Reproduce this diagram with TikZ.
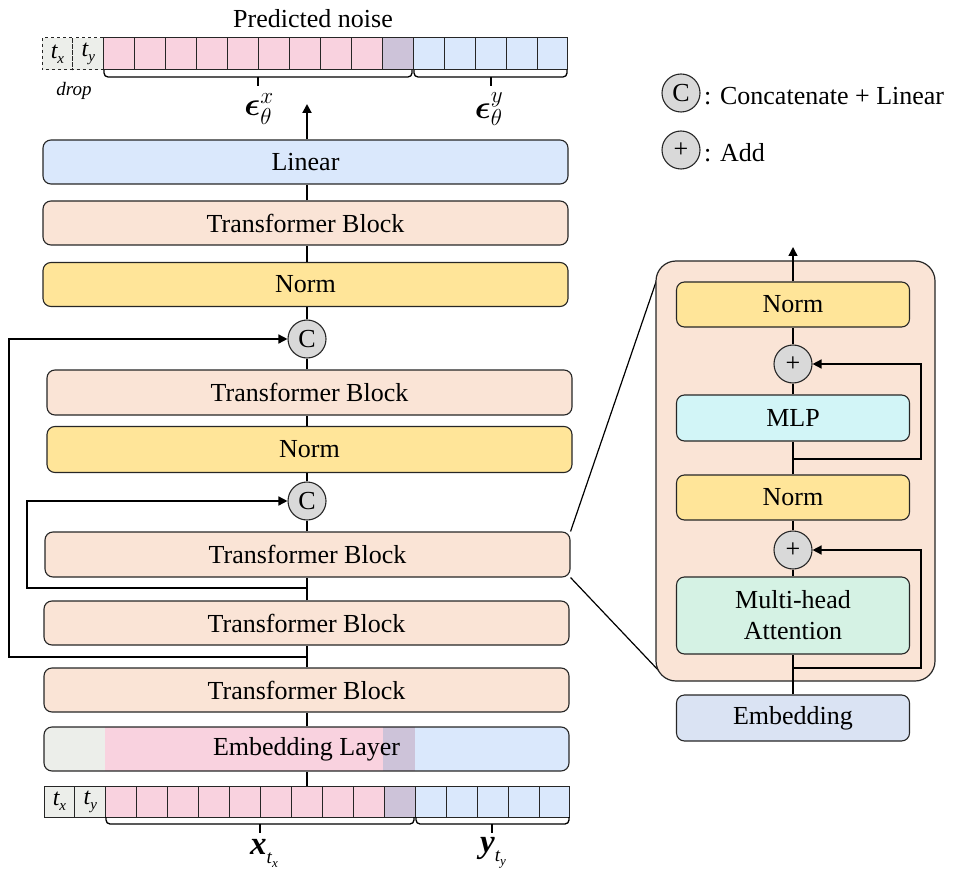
\RequirePackage{fix-cm}
\documentclass[tikz,border=0pt]{standalone}
\usepackage{bm}
\usepackage{fontspec}
\setmainfont{Liberation Serif}
\usetikzlibrary{arrows.meta,calc}
\definecolor{cLin}{HTML}{DAE8FC}
\definecolor{cTB}{HTML}{FAE4D6}
\definecolor{cNorm}{HTML}{FFE599}
\definecolor{cC}{HTML}{D9D9D9}
\definecolor{cPink}{HTML}{F9D2DF}
\definecolor{cPurp}{HTML}{CDC3D9}
\definecolor{cBlue}{HTML}{DAE8FC}
\definecolor{cGray}{HTML}{ECEEEA}
\definecolor{cMLP}{HTML}{D2F5F7}
\definecolor{cMHA}{HTML}{D5F2E4}
\definecolor{cEmb}{HTML}{DAE3F3}
\newcommand\boxfont{\fontsize{26}{31}\selectfont}
\newcommand\tlab[1]{{\fontsize{24}{24}\selectfont\itshape t\raisebox{-5pt}{\fontsize{15}{15}\selectfont #1}}}
\newcommand\vlab[2]{{\fontsize{33}{33}\selectfont\bfseries\itshape #1\raisebox{-9pt}{\fontsize{19}{19}\selectfont\mdseries t\raisebox{-4pt}{\fontsize{13}{13}\selectfont #2}}}}
\tikzset{
  box/.style={draw=black!85, line width=1.1pt, rounded corners=8pt, minimum width=525pt, minimum height=44pt, inner sep=0pt, font=\boxfont},
  rbox/.style={box, minimum width=233pt, minimum height=45pt},
  circ/.style={circle, draw=black!85, line width=1.1pt, fill=cC, minimum size=38pt, inner sep=0pt, font=\boxfont},
  conn/.style={line width=2pt},
  skipline/.style={line width=1.5pt},
  arr/.style={-{Triangle[length=9pt,width=9pt]}},
  cell/.style={draw=black!85, line width=1pt},
  brc/.style={line width=1.3pt, rounded corners=4pt},
}
\begin{document}
\begin{tikzpicture}[x=1pt,y=-1pt]
\useasboundingbox (0,0) rectangle (957,874);

% ---------- top strip ----------
\node[font=\boxfont] (pn) at (313,19) {Predicted noise};
\foreach \i in {0,1} \draw[cell,dashed,fill=cGray] ({42+\i*30.94},38) rectangle ++(30.94,32);
\foreach \i in {2,...,10} \draw[cell,fill=cPink] ({42+\i*30.94},38) rectangle ++(30.94,32);
\draw[cell,fill=cPurp] ({42+11*30.94},38) rectangle ++(30.94,32);
\foreach \i in {12,...,16} \draw[cell,fill=cBlue] ({42+\i*30.94},38) rectangle ++(30.94,32);
\node (ttx) at ({42+15.47},54) {\tlab{x}};
\node (tty) at ({42+46.41},54) {\tlab{y}};
\node[font=\fontsize{19}{19}\selectfont\itshape] (drop) at (74,91) {drop};
\draw[brc] (104,70) -- (104,77) -- (412,77) -- (412,70);
\draw[brc] (414,70) -- (414,77) -- (567,77) -- (567,70);
\coordinate (bt1) at (258,77); \coordinate (bt2) at (491,77);
\draw[line width=1.3pt] (bt1) -- ++(0,9);
\draw[line width=1.3pt] (bt2) -- ++(0,9);
\node (ex) at (259,109) {\fontsize{33}{33}\selectfont$\bm{\epsilon}_{\theta}^{x}$};
\node (ey) at (489,109) {\fontsize{33}{33}\selectfont$\bm{\epsilon}_{\theta}^{y}$};

% ---------- main column ----------
\node[box,fill=cLin] (lin) at (305.5,162) {Linear};
\node[box,fill=cTB] (tb1) at (305.5,223) {Transformer Block};
\node[box,fill=cNorm] (n1) at (305.5,284.5) {Norm};
\node[circ] (c1) at (307,339) {C};
\node[box,fill=cTB,minimum height=45pt] (tb2) at (309.5,392.5) {Transformer Block};
\node[box,fill=cNorm,minimum height=46pt] (n2) at (309.5,449.5) {Norm};
\node[circ] (c2) at (307,501) {C};
\node[box,fill=cTB,minimum height=45pt] (tb3) at (307.5,554.5) {Transformer Block};
\node[box,fill=cTB] (tb4) at (306.5,623) {Transformer Block};
\node[box,fill=cTB] (tb5) at (306.5,690) {Transformer Block};
\begin{scope}
  \clip[rounded corners=8pt] (44,727) rectangle (569,771);
  \fill[cGray] (44,727) rectangle (105,771);
  \fill[cPink] (105,727) rectangle (383,771);
  \fill[cPurp] (383,727) rectangle (415,771);
  \fill[cBlue] (415,727) rectangle (569,771);
\end{scope}
\node[box] (emb) at (306.5,749) {Embedding Layer};

% ---------- bottom strip ----------
\foreach \i in {0,1} \draw[cell,fill=cGray] ({44+\i*30.94},786) rectangle ++(30.94,31);
\foreach \i in {2,...,10} \draw[cell,fill=cPink] ({44+\i*30.94},786) rectangle ++(30.94,31);
\draw[cell,fill=cPurp] ({44+11*30.94},786) rectangle ++(30.94,31);
\foreach \i in {12,...,16} \draw[cell,fill=cBlue] ({44+\i*30.94},786) rectangle ++(30.94,31);
\node (btx) at ({44+15.47},801.5) {\tlab{x}};
\node (bty) at ({44+46.41},801.5) {\tlab{y}};
\draw[brc] (106,817) -- (106,824) -- (414,824) -- (414,817);
\draw[brc] (416,817) -- (416,824) -- (569,824) -- (569,817);
\coordinate (bb1) at (260,824); \coordinate (bb2) at (492,824);
\draw[line width=1.3pt] (bb1) -- ++(0,9);
\draw[line width=1.3pt] (bb2) -- ++(0,9);
\node (xl) at (264,853) {\vlab{x}{x}};
\node (yl) at (493,853) {\vlab{y}{y}};

% ---------- main connectors ----------
\coordinate (stripB) at (307,786);
\coordinate (outtop) at (307,104);
\draw[conn] (stripB) -- (stripB |- emb.south);
\draw[conn] (emb.north -| c1) -- (tb5.south -| c1);
\draw[conn] (tb5.north -| c1) -- (tb4.south -| c1);
\draw[conn] (tb4.north -| c1) -- (tb3.south -| c1);
\draw[conn] (tb3.north -| c1) -- (c2.south);
\draw[conn] (c2.north) -- (n2.south -| c1);
\draw[conn] (n2.north -| c1) -- (tb2.south -| c1);
\draw[conn] (tb2.north -| c1) -- (c1.south);
\draw[conn] (c1.north) -- (n1.south -| c1);
\draw[conn] (n1.north -| c1) -- (tb1.south -| c1);
\draw[conn] (tb1.north -| c1) -- (lin.south -| c1);
\draw[conn,arr] (lin.north -| outtop) -- (outtop);
\coordinate (s1) at (307,657); \coordinate (o1) at (9,657);
\draw[skipline,arr] (s1) -- (o1) |- (c1.west);
\coordinate (s2) at (307,588); \coordinate (o2) at (27,588);
\draw[skipline,arr] (s2) -- (o2) |- (c2.west);

% ---------- legend ----------
\node[circ] (lc) at (681,93) {C};
\node[font=\boxfont,anchor=base west,inner sep=0pt] (lct) at (704,105) {: Concatenate + Linear};
\node[circ] (lp) at (681,150) {+};
\node[font=\boxfont,anchor=base west,inner sep=0pt] (lpt) at (704,162) {: Add};

% ---------- right panel ----------
\coordinate (z1) at (657,279); \coordinate (z2) at (660,672);
\draw[line width=1.2pt] (tb3.north east) -- (z1);
\draw[line width=1.2pt] (tb3.south east) -- (z2);
\node[draw=black!85, line width=1.2pt, fill=cTB, rounded corners=20pt, minimum width=279pt, minimum height=420pt] (panel) at (795.5,471) {};
\node[rbox,fill=cNorm] (rn1) at (793,304.5) {Norm};
\node[circ] (p1) at (793,364) {+};
\node[rbox,fill=cMLP,minimum height=46pt] (mlp) at (793,418) {MLP};
\node[rbox,fill=cNorm] (rn2) at (793,497.5) {Norm};
\node[circ] (p2) at (793,550) {+};
\node[rbox,fill=cMHA,minimum height=77pt,align=center] (mha) at (793,615.5) {Multi-head\\Attention};
\node[rbox,fill=cEmb,minimum height=46pt] (remb) at (793,718) {Embedding};
\coordinate (rout) at (793,247);
\draw[skipline] (remb.north) -- (mha.south);
\draw[skipline] (mha.north) -- (p2.south);
\draw[skipline] (p2.north) -- (rn2.south);
\draw[skipline] (rn2.north) -- (mlp.south);
\draw[skipline] (mlp.north) -- (p1.south);
\draw[skipline] (p1.north) -- (rn1.south);
\draw[skipline,arr] (rn1.north) -- (rout);
\coordinate (r1) at (793,459); \coordinate (r1e) at (921,459);
\draw[skipline,arr] (r1) -- (r1e) |- (p1.east);
\coordinate (r2) at (793,668); \coordinate (r2e) at (921,668);
\draw[skipline,arr] (r2) -- (r2e) |- (p2.east);
\end{tikzpicture}
\end{document}
